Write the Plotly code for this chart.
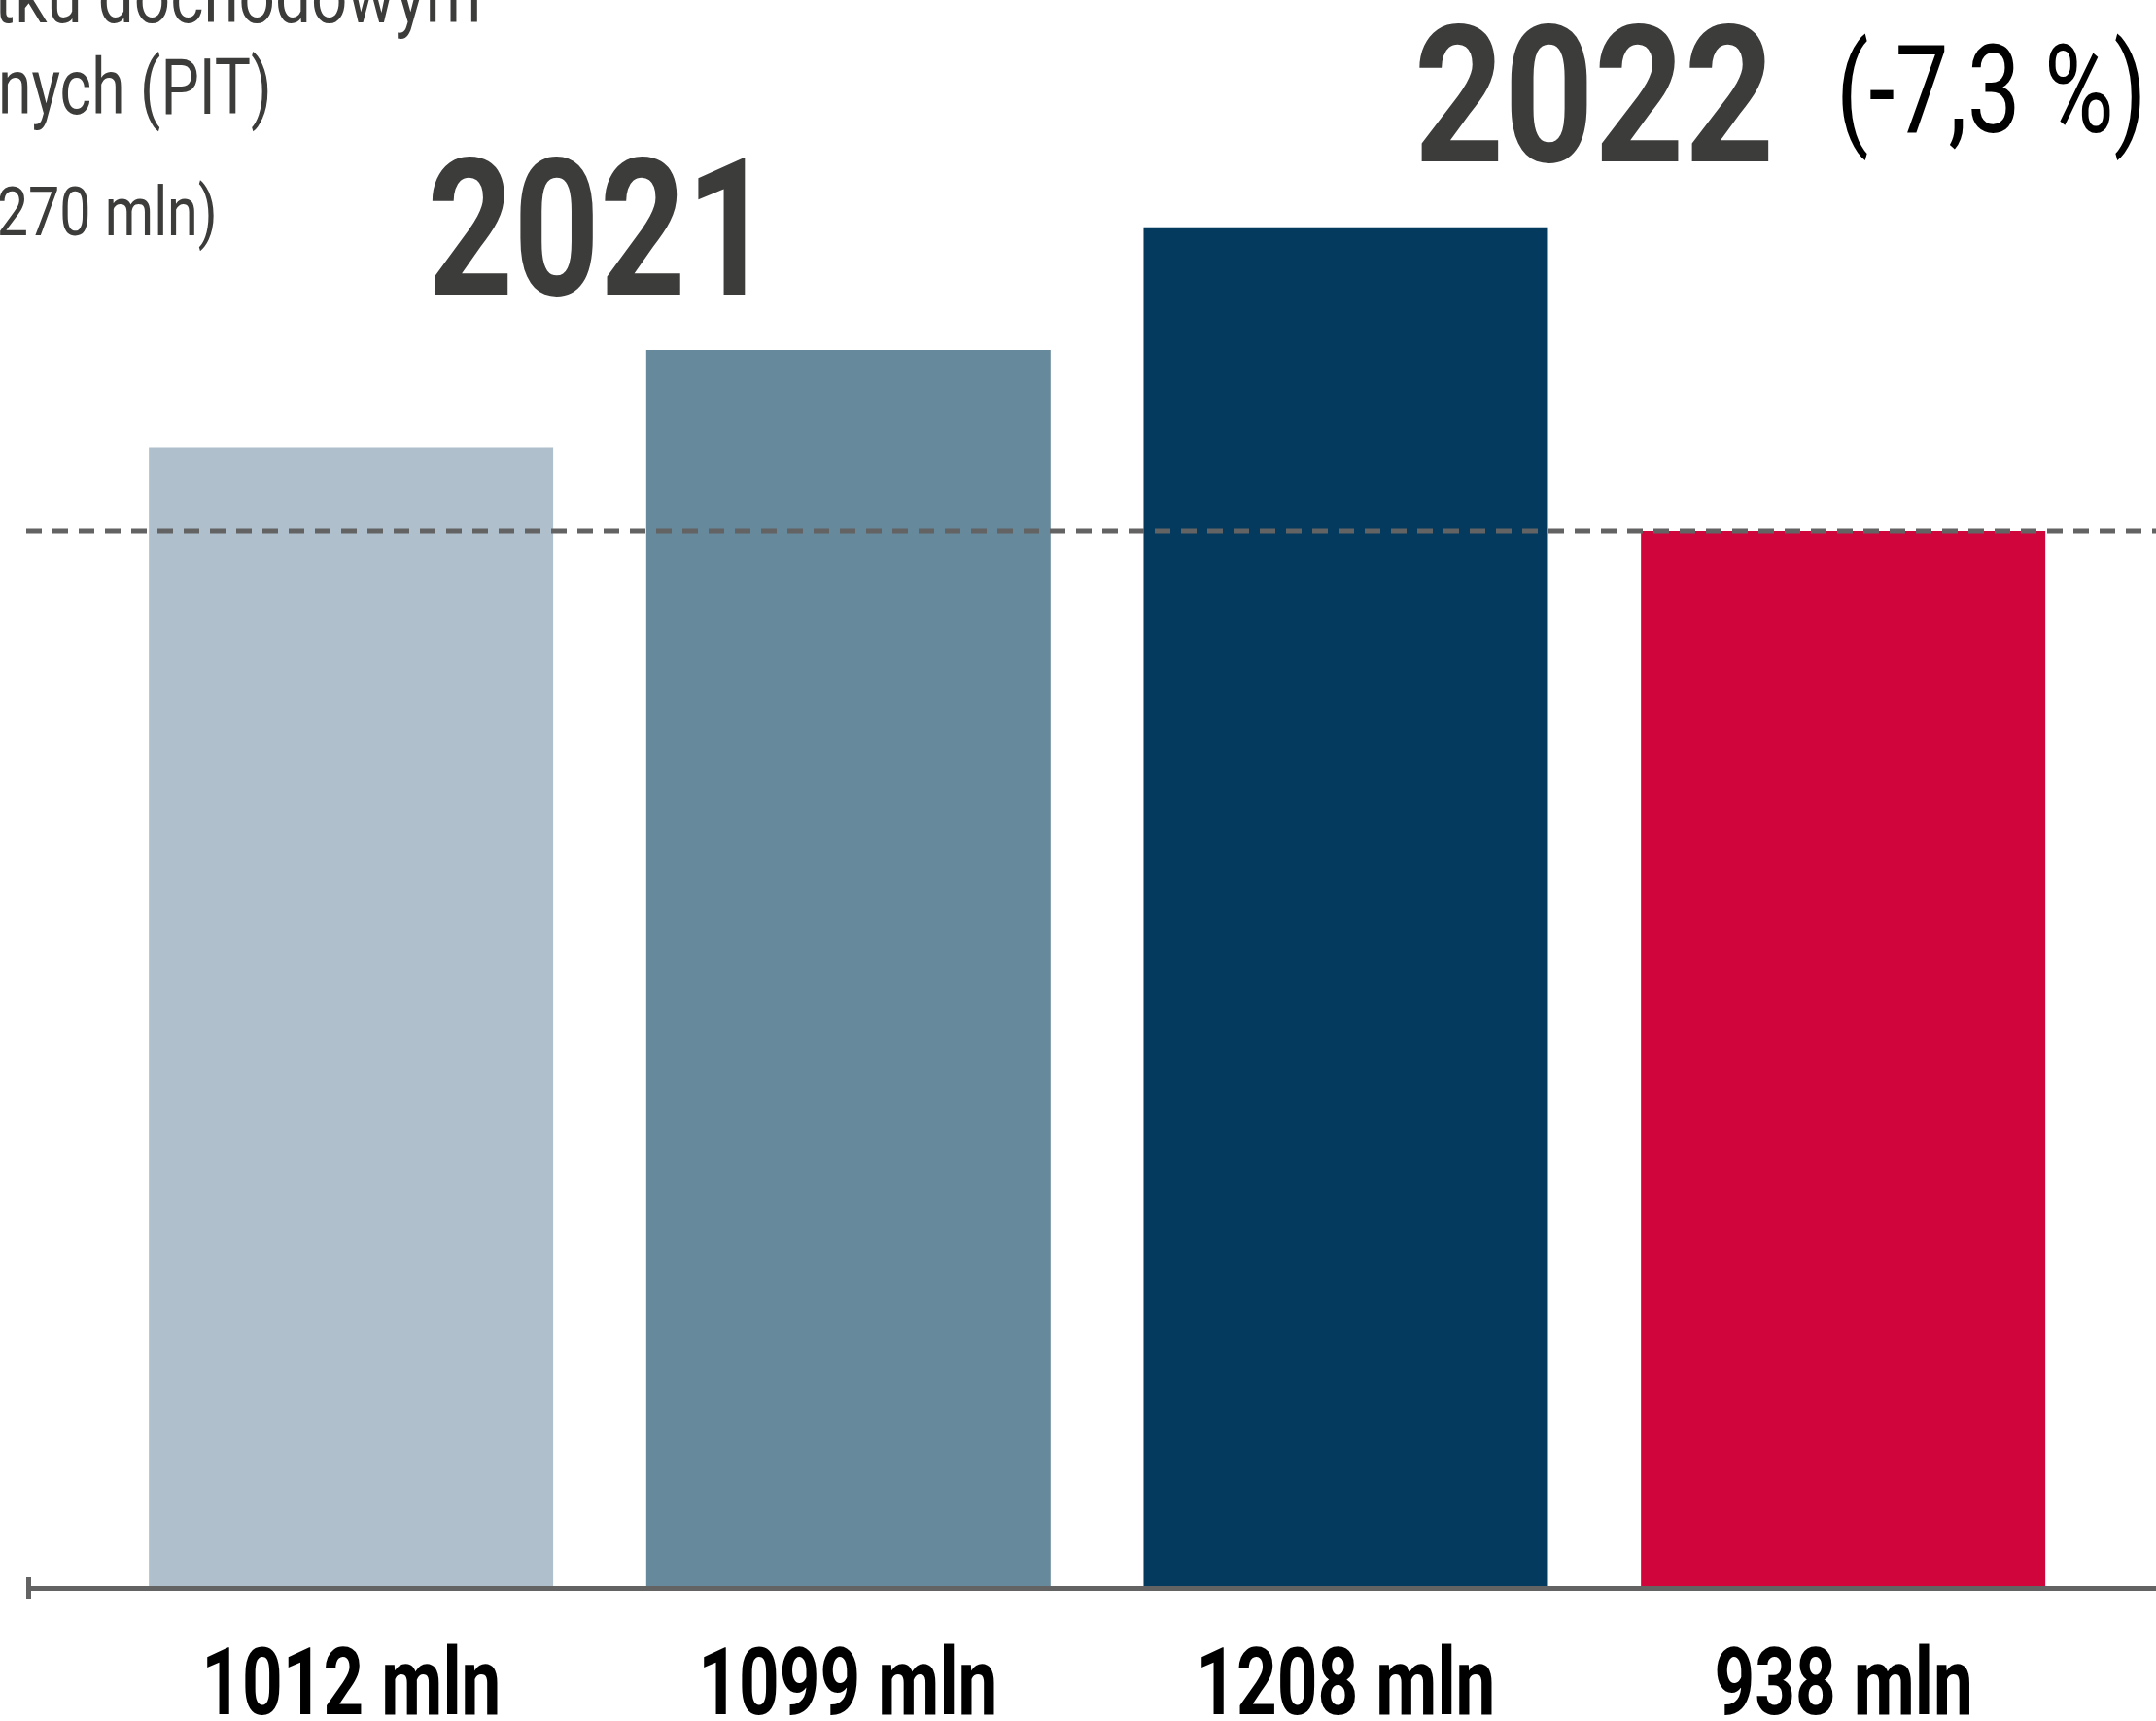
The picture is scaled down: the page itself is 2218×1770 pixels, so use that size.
import json
import plotly.graph_objects as go

# ---- data ----
values = [1012, 1099, 1208, 938]
years = ["2021", "2021", "2022", "2022"]
value_labels = [f"{v} mln" for v in values]
legend_lines = ["tku dochodowym", "nych (PIT)", "270 mln)"]
colors = ["#AFC0CC", "#67899C", "#033A5E", "#D0053C"]

# ---- layout geometry ----
W, H = 2218, 1770
ML, MB = 27, 139
PH = H - MB
PW = W - ML
PX_PER_UNIT = 1.1566
Y_MAX = PH / PX_PER_UNIT

FONT = "Roboto, Liberation Sans, Arial, sans-serif"
DARK = "#3C3C3B"
DESC = 0.244  # font descent (em)


def py(p):
    return (PH - p) / PH


def px(p):
    return (p - ML) / PW


def bottom_of(baseline, size):
    return baseline + DESC * size + 1


idx = list(range(len(values)))
fig = go.Figure(
    go.Bar(
        x=idx,
        y=values,
        width=0.813,
        marker=dict(color=colors, line=dict(width=0)),
        hoverinfo="skip",
    )
)

annotations = []
hscale = []  # horizontal condensing factor per annotation (condensed-font look)

# bottom value labels
for i, lab in zip(idx, value_labels):
    annotations.append(dict(
        x=i, xref="x", y=py(bottom_of(1764, 97)), yref="paper",
        xanchor="center", yanchor="bottom", showarrow=False,
        text=f"<b>{lab}</b>", font=dict(family=FONT, size=97, color="#000000"),
    ))
    hscale.append(0.75)

# year group labels (centered over each pair of bars)
group_years = []
for y in years:
    if y not in group_years:
        group_years.append(y)
year_base = {"2021": 304, "2022": 167}
year_scale = {"2021": 0.785, "2022": 0.82}
for y in group_years:
    members = [i for i in idx if years[i] == y]
    cx = sum(members) / len(members)
    annotations.append(dict(
        x=cx, xref="x", y=py(bottom_of(year_base[y], 197)), yref="paper",
        xanchor="center", yanchor="bottom", showarrow=False,
        text=f"<b>{y}</b>", font=dict(family=FONT, size=197, color=DARK),
    ))
    hscale.append(year_scale[y])

# percentage change
change = (values[3] - values[0]) / values[0] * 100
pct_text = f"({change:.1f} %)".replace(".", ",")
annotations.append(dict(
    x=px(1887), xref="paper", y=py(bottom_of(137, 127)), yref="paper",
    xanchor="left", yanchor="bottom", showarrow=False,
    text=pct_text, font=dict(family=FONT, size=127, color="#000000"),
))
hscale.append(0.77)

# partially visible description (cut at the left edge)
leg_right = [497, 282, 226]
leg_base = [24, 118, 243]
leg_size = [79, 79, 70]
leg_scale = [0.83, 0.79, 0.82]
for t, r, b, s, k in zip(legend_lines, leg_right, leg_base, leg_size, leg_scale):
    annotations.append(dict(
        x=px(r), xref="paper", y=py(bottom_of(b, s)), yref="paper",
        xanchor="right", yanchor="bottom", showarrow=False,
        text=t, font=dict(family=FONT, size=s, color=DARK),
    ))
    hscale.append(k)

shapes = [
    # dashed reference line at the 2022 level
    dict(type="line", xref="paper", x0=0, x1=1, yref="y", y0=values[3], y1=values[3],
         line=dict(color="#636363", width=5, dash="16px,11px"), layer="above"),
    # small end tick at the left of the axis
    dict(type="line", xref="paper", x0=2.5 / PW, x1=2.5 / PW, yref="paper",
         y0=-14 / PH, y1=9 / PH, line=dict(color="#636363", width=5), layer="above"),
]

fig.update_layout(
    width=W, height=H,
    margin=dict(l=ML, r=0, t=0, b=MB, pad=0),
    paper_bgcolor="white", plot_bgcolor="white",
    showlegend=False,
    annotations=annotations,
    shapes=shapes,
    xaxis=dict(range=[-0.653, 3.629], showgrid=False, zeroline=False,
               showticklabels=False, ticks="", showline=True,
               linecolor="#636363", linewidth=5, fixedrange=True),
    yaxis=dict(range=[0, Y_MAX], visible=False, showgrid=False, zeroline=False,
               fixedrange=True),
)

anchors = [a["xanchor"] for a in annotations]
post_js = """
(function(){
  document.body.style.margin = '0px';
  document.body.style.padding = '0px';
  var gd = document.getElementById('{plot_id}');
  var scales = %s;
  var anchors = %s;
  function apply(){
    var groups = gd.querySelectorAll('g.annotation');
    groups.forEach(function(g){
      var i = parseInt(g.getAttribute('data-index'));
      var t = g.querySelector('text.annotation-text');
      if (!t || isNaN(i) || scales[i] === undefined) return;
      t.style.transformBox = 'fill-box';
      t.style.transformOrigin = anchors[i] + ' center';
      t.style.transform = 'scaleX(' + scales[i] + ')';
    });
  }
  apply();
  if (gd.on) { gd.on('plotly_afterplot', apply); }
  setTimeout(apply, 50);
})();
""" % (json.dumps(hscale), json.dumps(anchors))

fig.write_html("out.html", post_script=post_js, config={"displayModeBar": False})
